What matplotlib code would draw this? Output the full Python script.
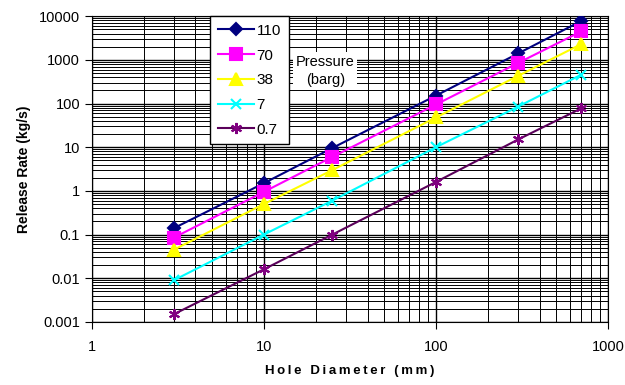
import matplotlib.pyplot as plt
from matplotlib.ticker import LogLocator, FixedLocator, FixedFormatter

plt.rcParams["font.family"] = ["Liberation Sans", "DejaVu Sans"]

diameters = [3, 10, 25, 100, 300, 700]
p110 = [0.14, 1.5, 9.6, 152, 1400, 7800]
p70 = [0.085, 0.95, 6.0, 95, 850, 4500]
p38 = [0.045, 0.5, 3.0, 48, 430, 2300]
p7 = [0.009, 0.1, 0.6, 10, 85, 460]
p07 = [0.0015, 0.016, 0.1, 1.6, 15, 78]

series = [
    ("110", p110, "#000080", "#000080", "D", 6),
    ("70", p70, "#FF00FF", "#FF00FF", "s", 8),
    ("38", p38, "#FFFF00", "#FFFF00", "^", 8),
    ("7", p7, "#00FFFF", "#00FFFF", "x", 7),
    ("0.7", p07, "#5A005A", "#800080", (6, 2, 0), 8),
]

fig = plt.figure(figsize=(6.25, 3.85), dpi=100)
ax = fig.add_axes([0.147, 0.164, 0.826, 0.794])

for label, vals, lc, mc, mk, ms in series:
    ax.plot(diameters, vals, color=lc, linewidth=1.5, marker=mk, markersize=ms,
            markerfacecolor=mc, markeredgecolor=mc, markeredgewidth=1.5,
            label=label, zorder=3)

ax.set_xscale("log")
ax.set_yscale("log")
ax.set_xlim(1, 1000)
ax.set_ylim(0.001, 10000)

ax.xaxis.set_major_locator(FixedLocator([1, 10, 100, 1000]))
ax.xaxis.set_major_formatter(FixedFormatter(["1", "10", "100", "1000"]))
ax.xaxis.set_minor_locator(LogLocator(base=10, subs=range(2, 10)))
yt = [0.001, 0.01, 0.1, 1, 10, 100, 1000, 10000]
ax.yaxis.set_major_locator(FixedLocator(yt))
ax.yaxis.set_major_formatter(FixedFormatter(["0.001", "0.01", "0.1", "1", "10", "100", "1000", "10000"]))
ax.yaxis.set_minor_locator(LogLocator(base=10, subs=range(2, 10)))

ax.grid(True, which="major", color="black", linewidth=1.0)
ax.grid(True, which="minor", color="black", linewidth=0.7)
ax.tick_params(axis="both", which="major", labelsize=10.5, length=5, color="black")
ax.tick_params(axis="both", which="minor", length=0)
ax.tick_params(axis="x", pad=8)
for s in ax.spines.values():
    s.set_color("black")

xlabel = "\u2009".join("Hole Diameter (mm)")
ax.set_xlabel(xlabel, fontsize=9.5, fontweight="bold", labelpad=8)
ax.set_ylabel("Release Rate (kg/s)", fontsize=10, fontweight="bold", labelpad=6)

leg = ax.legend(loc="upper left", bbox_to_anchor=(0.229, 1.0), fontsize=11,
                handlelength=2.4, handletextpad=0.15, labelspacing=0.7,
                borderpad=0.5, borderaxespad=0.0, fancybox=False,
                framealpha=1, edgecolor="black")
leg.get_frame().set_linewidth(1.0)
leg.set_zorder(5)

ax.text(0.452, 0.82, "Pressure\n(barg)", transform=ax.transAxes, fontsize=10.5,
        ha="center", va="center", linespacing=1.4,
        bbox=dict(facecolor="white", edgecolor="none", pad=2), zorder=4)

fig.savefig("out.png", dpi=100)
